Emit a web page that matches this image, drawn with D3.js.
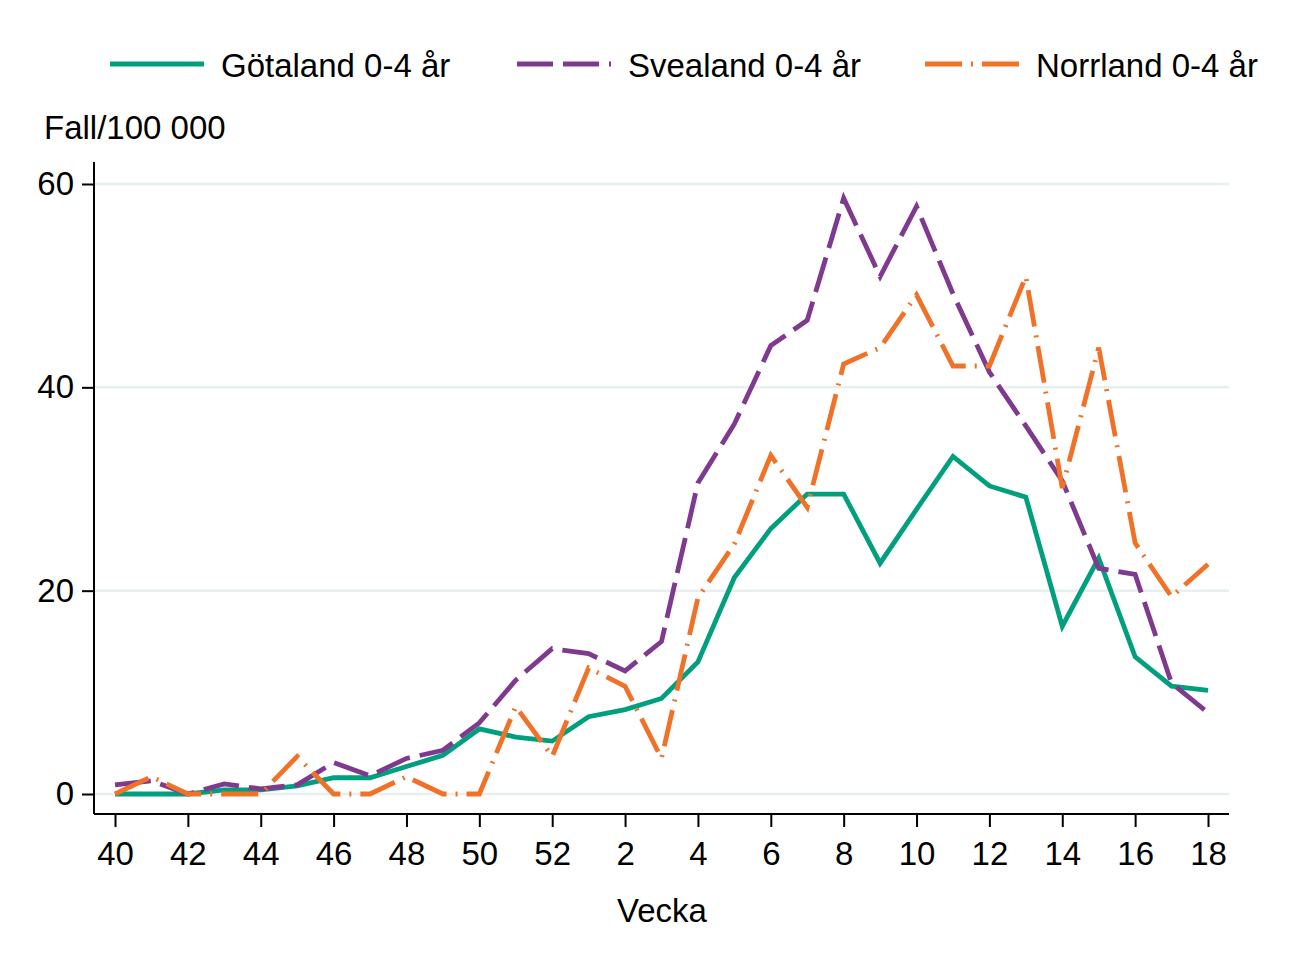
<!DOCTYPE html>
<html>
<head>
<meta charset="utf-8">
<script src="https://cdn.jsdelivr.net/npm/d3@7"></script>
<style>
  html, body { margin: 0; padding: 0; background: #fff; }
  svg text { font-family: "Liberation Sans", Arial, sans-serif; fill: #000; }
</style>
</head>
<body>
<svg id="chart" width="1311" height="954"></svg>
<script>
const weeks = ["40","41","42","43","44","45","46","47","48","49","50","51","52",
  "1","2","3","4","5","6","7","8","9","10","11","12","13","14","15","16","17","18"];
const tickWeeks = ["40","42","44","46","48","50","52","2","4","6","8","10","12","14","16","18"];
const yTicks = [0, 20, 40, 60];

const gotaland = [0, 0, 0, 0.4, 0.4, 0.8, 1.6, 1.6, 2.7, 3.8, 6.4, 5.6, 5.2,
  7.6, 8.3, 9.4, 13.0, 21.3, 26.1, 29.5, 29.5, 22.7, 28.0, 33.2, 30.3, 29.2, 16.5, 23.2, 13.5, 10.6, 10.2];
const svealand = [0.9, 1.3, 0, 1.0, 0.5, 0.9, 3.1, 1.8, 3.5, 4.3, 7.0, 11.2, 14.3,
  13.8, 12.1, 15.0, 30.6, 36.4, 44.1, 46.6, 58.6, 50.9, 57.8, 49.2, 41.5, 36.2, 30.8, 22.2, 21.6, 10.9, 8.0];
const norrland = [0, 1.7, 0, 0, 0, 3.7, 0, 0, 1.7, 0, 0, 8.6, 3.7,
  12.4, 10.6, 3.5, 19.3, 24.6, 33.3, 28.2, 42.3, 43.9, 49.1, 42.1, 42.1, 50.9, 30.1, 43.9, 24.7, 19.4, 22.6];

const seriesNames = ["Götaland 0-4 år", "Svealand 0-4 år", "Norrland 0-4 år"];
const seriesColors = ["#00A07E", "#7F3A8F", "#F07228"];
const seriesDash = [null, "36,10", "37,9,2,9"];
const seriesData = [gotaland, svealand, norrland];

const FS = 33;
const SW = 4.8;
const svg = d3.select("#chart");

const x = d3.scalePoint().domain(weeks).range([115, 1208]);
const y = d3.scaleLinear().domain([0, 60]).range([794, 184]);

const plotLeft = 94, plotRight = 1229, plotBottom = 814, plotTop = 162;

// gridlines
svg.append("g").selectAll("line").data(yTicks).join("line")
  .attr("x1", plotLeft).attr("x2", plotRight)
  .attr("y1", d => y(d)).attr("y2", d => y(d))
  .attr("stroke", "#e8eff0").attr("stroke-width", 2.5);

// lines
const line = d3.line().x((d, i) => x(weeks[i])).y(d => y(d));
seriesData.forEach((data, k) => {
  svg.append("path").datum(data)
    .attr("d", line)
    .attr("fill", "none")
    .attr("stroke", seriesColors[k])
    .attr("stroke-width", SW)
    .attr("stroke-linejoin", "miter")
    .attr("stroke-dasharray", seriesDash[k]);
});

// y axis
const yAxis = d3.axisLeft(y).tickValues(yTicks).tickSize(12).tickPadding(8).tickSizeOuter(0);
const gy = svg.append("g").attr("transform", `translate(${plotLeft},0)`).call(yAxis);
gy.select(".domain").remove();
gy.append("line").attr("x1", 0).attr("x2", 0).attr("y1", plotTop).attr("y2", plotBottom)
  .attr("stroke", "#000").attr("stroke-width", 2);
gy.selectAll(".tick line").attr("stroke", "#000").attr("stroke-width", 2);
gy.selectAll(".tick text").attr("font-size", FS).attr("font-family", "Liberation Sans, Arial, sans-serif").attr("fill", "#000");

// x axis
const xAxis = d3.axisBottom(x).tickValues(tickWeeks).tickSize(13).tickPadding(15).tickSizeOuter(0);
const gx = svg.append("g").attr("transform", `translate(0,${plotBottom})`).call(xAxis);
gx.select(".domain").remove();
gx.append("line").attr("x1", plotLeft).attr("x2", plotRight).attr("y1", 0).attr("y2", 0)
  .attr("stroke", "#000").attr("stroke-width", 2);
gx.selectAll(".tick line").attr("stroke", "#000").attr("stroke-width", 2);
gx.selectAll(".tick text").attr("font-size", FS).attr("font-family", "Liberation Sans, Arial, sans-serif").attr("fill", "#000");

// titles
svg.append("text").attr("x", 44).attr("y", 139).attr("font-size", FS).text("Fall/100 000");
svg.append("text").attr("x", 662).attr("y", 922).attr("font-size", FS).attr("text-anchor", "middle").text("Vecka");

// legend
const legendX = [110, 517, 925];
seriesNames.forEach((name, k) => {
  const g = svg.append("g");
  g.append("line").attr("x1", legendX[k]).attr("x2", legendX[k] + 94)
    .attr("y1", 64).attr("y2", 64)
    .attr("stroke", seriesColors[k]).attr("stroke-width", SW)
    .attr("stroke-dasharray", seriesDash[k]);
  g.append("text").attr("x", legendX[k] + 111).attr("y", 77).attr("font-size", FS).text(name);
});
</script>
</body>
</html>
